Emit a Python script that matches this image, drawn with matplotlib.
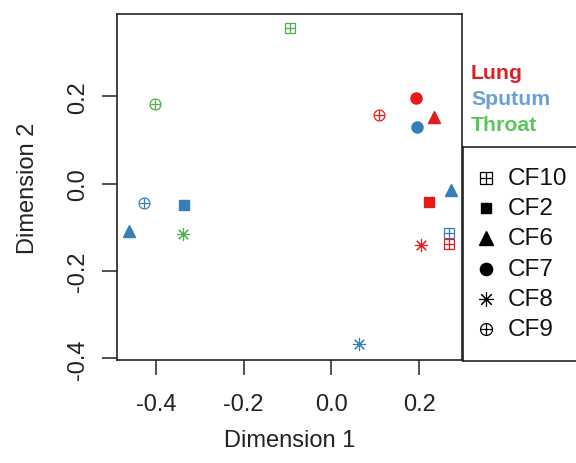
import numpy as np
import matplotlib
matplotlib.use("Agg")
import matplotlib.pyplot as plt

plt.rcParams["font.family"] = ["Liberation Sans", "DejaVu Sans"]

# MDS coordinates
patient = ["CF10", "CF9", "CF9", "CF2", "CF6", "CF8", "CF9", "CF7",
           "CF6", "CF7", "CF6", "CF2", "CF10", "CF10", "CF8", "CF8"]
site = ["Throat", "Throat", "Sputum", "Sputum", "Sputum", "Throat", "Lung", "Lung",
        "Lung", "Sputum", "Sputum", "Lung", "Sputum", "Lung", "Lung", "Sputum"]
dim1 = [-0.094, -0.402, -0.427, -0.335, -0.462, -0.337, 0.108, 0.194,
        0.234, 0.195, 0.272, 0.223, 0.268, 0.268, 0.204, 0.063]
dim2 = [0.357, 0.182, -0.045, -0.049, -0.108, -0.115, 0.157, 0.197,
        0.152, 0.129, -0.014, -0.042, -0.114, -0.139, -0.140, -0.367]

sites = ["Lung", "Sputum", "Throat"]
site_colors = {"Lung": "#E41A1C", "Sputum": "#377EB8", "Throat": "#4DAF4A"}
site_text_colors = {"Lung": "#DD2026", "Sputum": "#6A9FD6", "Throat": "#5CC65C"}
patients = ["CF10", "CF2", "CF6", "CF7", "CF8", "CF9"]

xticks = [-0.4, -0.2, 0.0, 0.2]
yticks = [-0.4, -0.2, 0.0, 0.2]


def draw_marker(ax, x, y, p, color, scale=1.0, **kw):
    # mimic R pch symbols
    if p == "CF10":
        ax.plot(x, y, "s", ms=7.8 * scale, mfc="none", mec=color, mew=0.9, **kw)
        ax.plot(x, y, "+", ms=7.8 * scale, mec=color, mew=0.9, **kw)
    elif p == "CF2":
        ax.plot(x, y, "s", ms=7.0 * scale, color=color, mec=color, **kw)
    elif p == "CF6":
        ax.plot(x, y, "^", ms=9 * scale, color=color, mec=color, **kw)
    elif p == "CF7":
        ax.plot(x, y, "o", ms=8 * scale, color=color, mec=color, **kw)
    elif p == "CF8":
        ax.plot(x, y, marker=(8, 2, 0), ms=9.5 * scale, mec=color, mew=0.8,
                ls="none", **kw)
    elif p == "CF9":
        ax.plot(x, y, "o", ms=7.8 * scale, mfc="none", mec=color, mew=0.9, **kw)
        ax.plot(x, y, "+", ms=7.8 * scale, mec=color, mew=0.9, **kw)


fig = plt.figure(figsize=(5.76, 4.64), dpi=100)
ax = fig.add_axes([117 / 576, 1 - 361 / 464, (462 - 117) / 576, (361 - 15) / 464])

for p, s, x, y in zip(patient, site, dim1, dim2):
    draw_marker(ax, x, y, p, site_colors[s])

ax.set_xlim(-0.4885, 0.298)
ax.set_ylim(-0.404, 0.389)
ax.set_xticks(xticks)
ax.set_yticks(yticks)
ax.set_xticklabels([f"{v:.1f}" for v in xticks])
ax.set_yticklabels([f"{v:.1f}" for v in yticks], rotation=90, va="center")
ax.tick_params(direction="out", length=11, width=1.1, labelsize=17,
               colors="#222222")
ax.tick_params(axis="x", pad=13)
ax.tick_params(axis="y", pad=9)
for sp in ax.spines.values():
    sp.set_linewidth(1.2)
    sp.set_color("#222222")
ax.set_xlabel("Dimension 1", fontsize=17, color="#222222", labelpad=10)
ax.set_ylabel("Dimension 2", fontsize=17, color="#222222", labelpad=20)

# site colour key
for i, s in enumerate(sites):
    fig.text(471 / 576, 1 - (73.5 + 26 * i) / 464, s, color=site_text_colors[s],
             fontsize=15.3, fontweight="bold", va="center", ha="left")

# patient symbol legend box
lax = fig.add_axes([463 / 576, 1 - 362 / 464, 0.3, (362 - 148) / 464])
lax.set_xlim(0, 1)
lax.set_ylim(0, 1)
lax.set_xticks([])
lax.set_yticks([])
for sp in lax.spines.values():
    sp.set_linewidth(1.2)
    sp.set_color("#222222")
rows = np.linspace(0.855, 0.150, len(patients))
for p, ry in zip(patients, rows):
    draw_marker(lax, 0.133, ry, p, "black", scale=1.1)
    lax.text(0.26, ry, p, fontsize=17.5, color="#111111", va="center", ha="left")

fig.savefig("out.png", dpi=100)
